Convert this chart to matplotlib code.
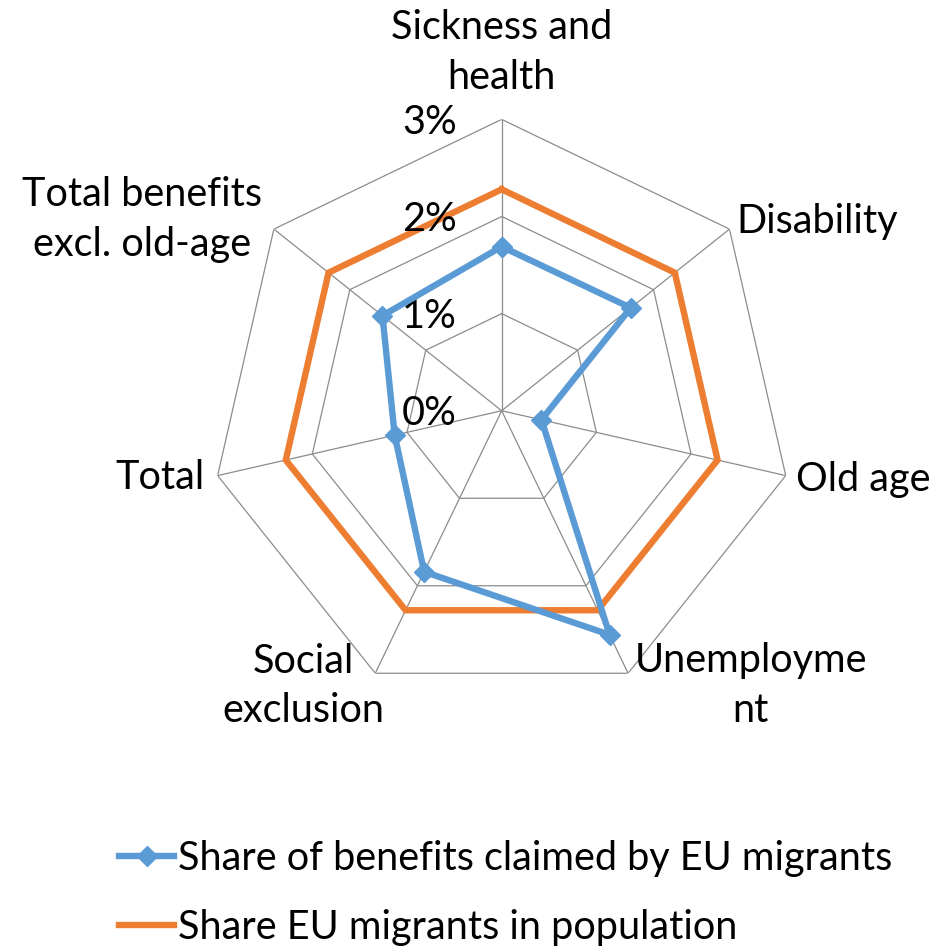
import numpy as np
import matplotlib
matplotlib.use("Agg")
import matplotlib.pyplot as plt
from matplotlib.transforms import offset_copy

plt.rcParams['font.family'] = ['Lato', 'DejaVu Sans']

categories = ["Sickness and\nhealth", "Disability", "Old age", "Unemployme\nnt",
              "Social\nexclusion", "Total", "Total benefits\nexcl. old-age"]
benefit_share = [1.69, 1.70, 0.42, 2.56, 1.84, 1.13, 1.57]
population_share = [2.28, 2.28, 2.28, 2.28, 2.28, 2.28, 2.28]
ring_values = [1, 2, 3]
tick_values = [0, 1, 2, 3]
tick_labels = ["0%", "1%", "2%", "3%"]

# label anchor positions (angle in degrees clockwise from top, radius in data units)
label_angles = [0, 59.1, 100.8, 137.8, 215.75, 258.9, 298.0]
label_radii = [3.69, 3.79, 3.785, 3.82, 3.49, 3.59, 4.19]

BLUE = "#5B9BD5"
ORANGE = "#ED7D31"
GRID = "#8C8C8C"
FS = 28.5

fig = plt.figure(figsize=(9.4, 9.46), dpi=100)
ax = fig.add_axes([0.2237, 0.2578, 0.620, 0.616], projection='polar')
ax.set_theta_zero_location('N')
ax.set_theta_direction(-1)
ax.set_ylim(0, 3)
ax.grid(False)
ax.spines['polar'].set_visible(False)
ax.set_xticks([])
ax.set_yticks([])
ax.patch.set_visible(False)

n = len(categories)
theta = np.arange(n) * 2 * np.pi / n
theta_closed = np.append(theta, theta[0])

# heptagonal rings and spokes
for rv in ring_values:
    ax.plot(theta_closed, [rv] * (n + 1), color=GRID, lw=0.9, zorder=1)
for t in theta:
    ax.plot([t, t], [0, 3], color=GRID, lw=0.9, zorder=1)

# data series
ax.plot(theta_closed, population_share + population_share[:1], color=ORANGE,
        lw=4.6, zorder=3, label="Share EU migrants in population",
        solid_joinstyle='miter')
ax.plot(theta_closed, benefit_share + benefit_share[:1], color=BLUE, lw=4.6,
        marker='D', markersize=10, zorder=4,
        label="Share of benefits claimed by EU migrants", solid_joinstyle='miter')

# radial tick labels
tick_tr = offset_copy(ax.transData, fig=fig, x=-45, y=-3, units='dots')
for v, lab in zip(tick_values, tick_labels):
    ax.text(0, v, lab, transform=tick_tr, ha='right', va='center',
            fontsize=FS, color='black', clip_on=False)

# category labels
for lab, a, r in zip(categories, label_angles, label_radii):
    ax.text(np.deg2rad(a), r, lab, ha='center', va='center', fontsize=FS,
            color='black', clip_on=False, multialignment='center',
            linespacing=1.42)

handles, labels = ax.get_legend_handles_labels()
fig.legend(handles[::-1], labels[::-1], loc='center',
           bbox_to_anchor=(0.538, 1 - 893 / 946), frameon=False,
           fontsize=FS, handlelength=1.4, handletextpad=0.1,
           labelspacing=0.82, borderpad=0)

fig.savefig("out.png", dpi=100)
